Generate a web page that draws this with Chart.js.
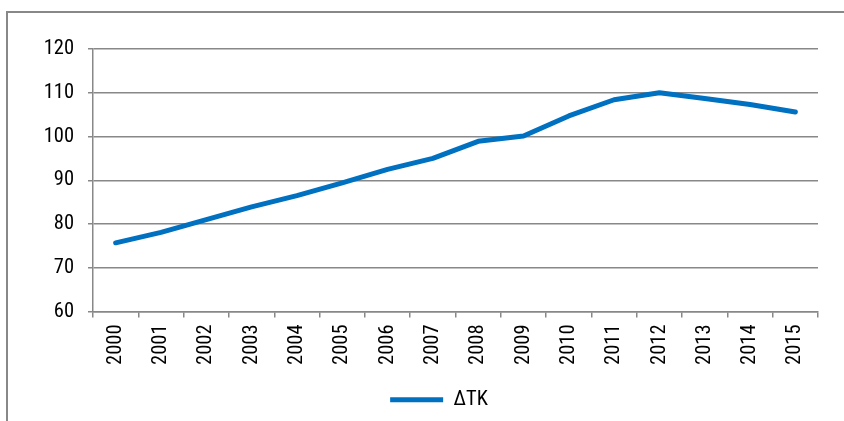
<!DOCTYPE html>
<html>
<head>
<meta charset="utf-8">
<script src="https://cdn.jsdelivr.net/npm/chart.js@4"></script>
<style>
  html, body { margin: 0; padding: 0; background: #fff; }
  #wrap { position: relative; width: 844px; height: 421px; }
</style>
</head>
<body>
<div id="wrap"><canvas id="wykres"></canvas></div>
<script>
// dane
const lata = ["2000","2001","2002","2003","2004","2005","2006","2007","2008","2009","2010","2011","2012","2013","2014","2015"];
const wartosci = [75.7, 78.1, 81.0, 83.9, 86.5, 89.4, 92.5, 95.0, 98.9, 100.1, 104.7, 108.4, 110.0, 108.7, 107.3, 105.6];
const nazwaSerii = "ΔΤΚ";
const osY = { min: 60, max: 120, krok: 10 };

const czcionka = "'Liberation Sans Narrow', 'Arial Narrow', 'Roboto Condensed', sans-serif";
const szary = '#888888';

// ramka dookoła całego wykresu (wychodzi poza prawy i dolny brzeg)
const ramka = {
  id: 'ramka',
  beforeDraw(chart) {
    const ctx = chart.ctx;
    ctx.save();
    ctx.strokeStyle = szary;
    ctx.lineWidth = 2;
    ctx.strokeRect(7, 12, 1000, 600);
    ctx.restore();
    // legenda lekko przesunięta w prawo, jak w oryginale
    if (chart.legend) {
      chart.legend.left = 60;
      chart.legend.right = chart.chartArea.right;
    }
  }
};

new Chart(document.getElementById('wykres').getContext('2d'), {
  type: 'line',
  data: {
    labels: lata,
    datasets: [{
      label: nazwaSerii,
      data: wartosci,
      borderColor: '#0070C0',
      backgroundColor: '#0070C0',
      borderWidth: 5,
      borderCapStyle: 'round',
      borderJoinStyle: 'round',
      tension: 0,
      pointRadius: 0,
      pointHoverRadius: 0,
      pointStyle: 'line',
      fill: false
    }]
  },
  options: {
    responsive: true,
    maintainAspectRatio: false,
    animation: false,
    layout: { padding: { left: 0, right: 26, top: 49, bottom: 1 } },
    scales: {
      x: {
        offset: true,
        afterFit: (s) => { s.height = 72; },
        grid: {
          display: true,
          offset: true,
          drawOnChartArea: false,
          drawTicks: true,
          tickLength: 6,
          color: szary,
          lineWidth: 1.5
        },
        border: { display: true, color: szary, width: 1.5 },
        ticks: {
          minRotation: 90,
          maxRotation: 90,
          padding: 7,
          color: '#000',
          font: { family: czcionka, size: 20.5 }
        }
      },
      y: {
        min: osY.min,
        max: osY.max,
        afterFit: (s) => { s.width = 93; },
        grid: {
          color: szary,
          lineWidth: 1.5,
          drawTicks: true,
          tickLength: 5
        },
        border: { display: true, color: szary, width: 1.5 },
        ticks: {
          stepSize: osY.krok,
          padding: 14,
          color: '#000',
          font: { family: czcionka, size: 20.5 }
        }
      }
    },
    plugins: {
      legend: {
        display: true,
        position: 'bottom',
        labels: {
          usePointStyle: true,
          pointStyle: 'line',
          pointStyleWidth: 53,
          padding: 6,
          color: '#000',
          font: { family: czcionka, size: 20.5 }
        }
      },
      tooltip: { enabled: false }
    }
  },
  plugins: [ramka]
});
</script>
</body>
</html>
